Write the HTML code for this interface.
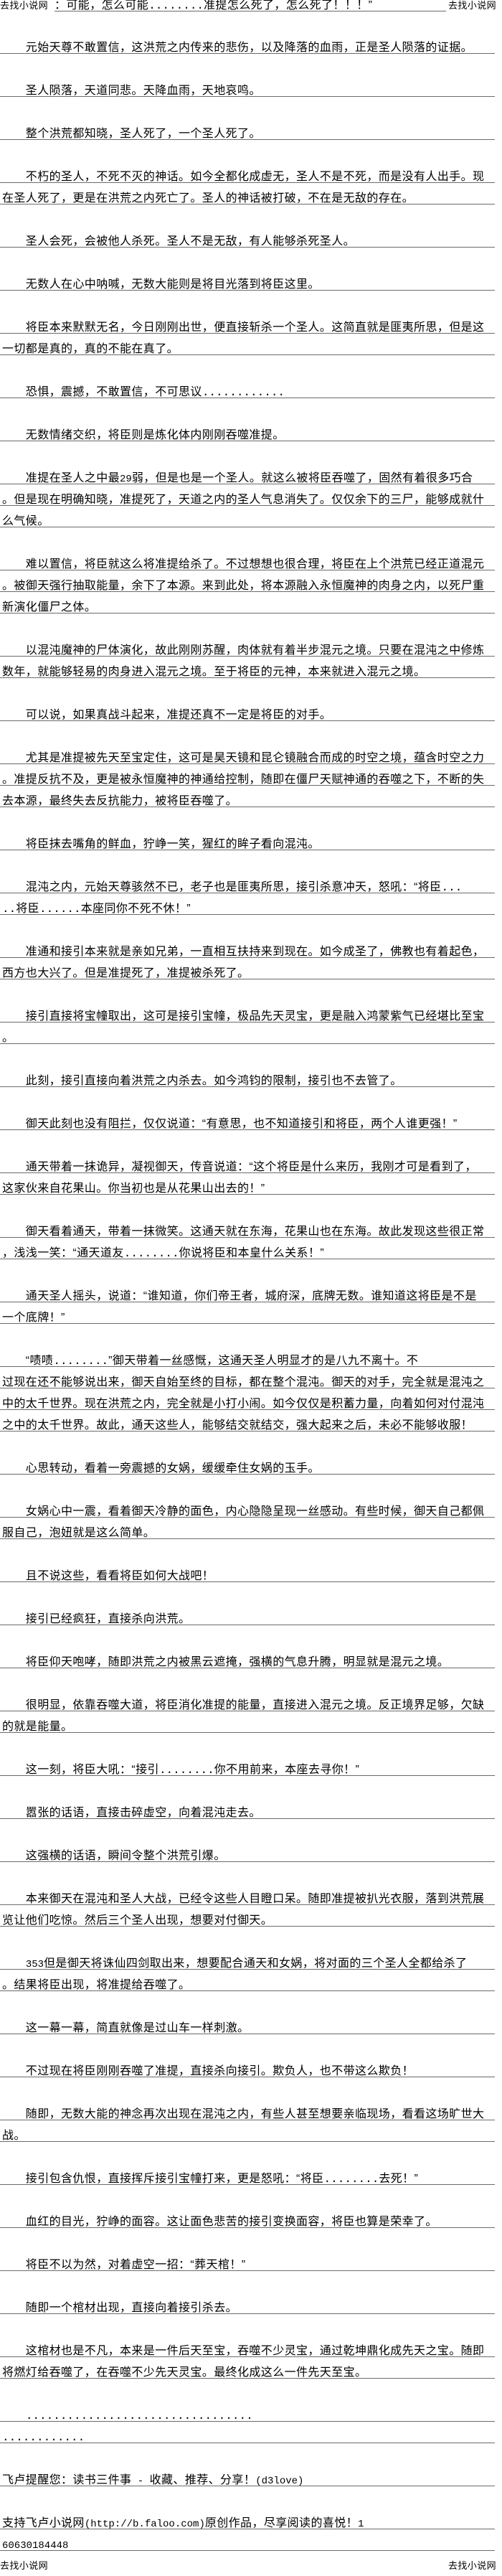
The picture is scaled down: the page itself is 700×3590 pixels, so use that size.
<!DOCTYPE html>
<html><head><meta charset="utf-8">
<style>
html,body{margin:0;padding:0;background:#fff;}
body{width:700px;height:3590px;position:relative;overflow:hidden;color:#000;
font-family:"WenQuanYi Zen Hei","Liberation Sans","Noto Sans CJK SC",sans-serif;}
#hdr{position:absolute;left:0;top:0;width:700px;height:20px;}
.site{position:absolute;top:0;font-size:13px;letter-spacing:.4px;line-height:15px;white-space:nowrap;}
#mq{position:absolute;left:76px;top:0;width:546px;height:15px;border-bottom:1px solid #6b6b6b;overflow:hidden;white-space:nowrap;font-size:16px;letter-spacing:.4px;line-height:15px;}
#main{position:absolute;left:0;top:45px;width:700px;}
.l{height:22px;padding-top:7px;line-height:29px;border-bottom:1px solid #6b6b6b;margin-right:10px;padding-left:3px;white-space:nowrap;font-size:16px;letter-spacing:.4px;overflow:hidden;}
.b{height:30px;}
.m{font-family:"Liberation Mono",monospace;font-size:14px;letter-spacing:0;}
.d{font-family:"Liberation Mono",monospace;font-size:16px;letter-spacing:0;}
#ftr{position:absolute;left:0;top:3565px;width:700px;height:20px;}
</style></head><body>
<div id="hdr">
<div class="site" style="left:0">去找小说网</div>
<div id="mq">：可能，怎么可能<span class="d">........</span>准提怎么死了，怎么死了！！！”</div>
<div class="site" style="left:625px">去找小说网</div>
</div>
<div id="main">
<div class="l">　　元始天尊不敢置信，这洪荒之内传来的悲伤，以及降落的血雨，正是圣人陨落的证据。</div>
<div class="b"></div>
<div class="l">　　圣人陨落，天道同悲。天降血雨，天地哀鸣。</div>
<div class="b"></div>
<div class="l">　　整个洪荒都知晓，圣人死了，一个圣人死了。</div>
<div class="b"></div>
<div class="l">　　不朽的圣人，不死不灭的神话。如今全都化成虚无，圣人不是不死，而是没有人出手。现</div>
<div class="l">在圣人死了，更是在洪荒之内死亡了。圣人的神话被打破，不在是无敌的存在。</div>
<div class="b"></div>
<div class="l">　　圣人会死，会被他人杀死。圣人不是无敌，有人能够杀死圣人。</div>
<div class="b"></div>
<div class="l">　　无数人在心中呐喊，无数大能则是将目光落到将臣这里。</div>
<div class="b"></div>
<div class="l">　　将臣本来默默无名，今日刚刚出世，便直接斩杀一个圣人。这简直就是匪夷所思，但是这</div>
<div class="l">一切都是真的，真的不能在真了。</div>
<div class="b"></div>
<div class="l">　　恐惧，震撼，不敢置信，不可思议<span class="d">............</span></div>
<div class="b"></div>
<div class="l">　　无数情绪交织，将臣则是炼化体内刚刚吞噬准提。</div>
<div class="b"></div>
<div class="l">　　准提在圣人之中最<span class="m">29</span>弱，但是也是一个圣人。就这么被将臣吞噬了，固然有着很多巧合</div>
<div class="l">。但是现在明确知晓，准提死了，天道之内的圣人气息消失了。仅仅余下的三尸，能够成就什</div>
<div class="l">么气候。</div>
<div class="b"></div>
<div class="l">　　难以置信，将臣就这么将准提给杀了。不过想想也很合理，将臣在上个洪荒已经正道混元</div>
<div class="l">。被御天强行抽取能量，余下了本源。来到此处，将本源融入永恒魔神的肉身之内，以死尸重</div>
<div class="l">新演化僵尸之体。</div>
<div class="b"></div>
<div class="l">　　以混沌魔神的尸体演化，故此刚刚苏醒，肉体就有着半步混元之境。只要在混沌之中修炼</div>
<div class="l">数年，就能够轻易的肉身进入混元之境。至于将臣的元神，本来就进入混元之境。</div>
<div class="b"></div>
<div class="l">　　可以说，如果真战斗起来，准提还真不一定是将臣的对手。</div>
<div class="b"></div>
<div class="l">　　尤其是准提被先天至宝定住，这可是昊天镜和昆仑镜融合而成的时空之境，蕴含时空之力</div>
<div class="l">。准提反抗不及，更是被永恒魔神的神通给控制，随即在僵尸天赋神通的吞噬之下，不断的失</div>
<div class="l">去本源，最终失去反抗能力，被将臣吞噬了。</div>
<div class="b"></div>
<div class="l">　　将臣抹去嘴角的鲜血，狞峥一笑，猩红的眸子看向混沌。</div>
<div class="b"></div>
<div class="l">　　混沌之内，元始天尊骇然不已，老子也是匪夷所思，接引杀意冲天，怒吼：“将臣<span class="d">...</span></div>
<div class="l"><span class="d">..</span>将臣<span class="d">......</span>本座同你不死不休！”</div>
<div class="b"></div>
<div class="l">　　准通和接引本来就是亲如兄弟，一直相互扶持来到现在。如今成圣了，佛教也有着起色，</div>
<div class="l">西方也大兴了。但是准提死了，准提被杀死了。</div>
<div class="b"></div>
<div class="l">　　接引直接将宝幢取出，这可是接引宝幢，极品先天灵宝，更是融入鸿蒙紫气已经堪比至宝</div>
<div class="l">。</div>
<div class="b"></div>
<div class="l">　　此刻，接引直接向着洪荒之内杀去。如今鸿钧的限制，接引也不去管了。</div>
<div class="b"></div>
<div class="l">　　御天此刻也没有阻拦，仅仅说道：“有意思，也不知道接引和将臣，两个人谁更强！”</div>
<div class="b"></div>
<div class="l">　　通天带着一抹诡异，凝视御天，传音说道：“这个将臣是什么来历，我刚才可是看到了，</div>
<div class="l">这家伙来自花果山。你当初也是从花果山出去的！”</div>
<div class="b"></div>
<div class="l">　　御天看着通天，带着一抹微笑。这通天就在东海，花果山也在东海。故此发现这些很正常</div>
<div class="l">，浅浅一笑：“通天道友<span class="d">........</span>你说将臣和本皇什么关系！”</div>
<div class="b"></div>
<div class="l">　　通天圣人摇头，说道：“谁知道，你们帝王者，城府深，底牌无数。谁知道这将臣是不是</div>
<div class="l">一个底牌！”</div>
<div class="b"></div>
<div class="l">　　“啧啧<span class="d">........</span>”御天带着一丝感慨，这通天圣人明显才的是八九不离十。不</div>
<div class="l">过现在还不能够说出来，御天自始至终的目标，都在整个混沌。御天的对手，完全就是混沌之</div>
<div class="l">中的太千世界。现在洪荒之内，完全就是小打小闹。如今仅仅是积蓄力量，向着如何对付混沌</div>
<div class="l">之中的太千世界。故此，通天这些人，能够结交就结交，强大起来之后，未必不能够收服！</div>
<div class="b"></div>
<div class="l">　　心思转动，看着一旁震撼的女娲，缓缓牵住女娲的玉手。</div>
<div class="b"></div>
<div class="l">　　女娲心中一震，看着御天冷静的面色，内心隐隐呈现一丝感动。有些时候，御天自己都佩</div>
<div class="l">服自己，泡妞就是这么简单。</div>
<div class="b"></div>
<div class="l">　　且不说这些，看看将臣如何大战吧！</div>
<div class="b"></div>
<div class="l">　　接引已经疯狂，直接杀向洪荒。</div>
<div class="b"></div>
<div class="l">　　将臣仰天咆哮，随即洪荒之内被黑云遮掩，强横的气息升腾，明显就是混元之境。</div>
<div class="b"></div>
<div class="l">　　很明显，依靠吞噬大道，将臣消化准提的能量，直接进入混元之境。反正境界足够，欠缺</div>
<div class="l">的就是能量。</div>
<div class="b"></div>
<div class="l">　　这一刻，将臣大吼：“接引<span class="d">........</span>你不用前来，本座去寻你！”</div>
<div class="b"></div>
<div class="l">　　嚣张的话语，直接击碎虚空，向着混沌走去。</div>
<div class="b"></div>
<div class="l">　　这强横的话语，瞬间令整个洪荒引爆。</div>
<div class="b"></div>
<div class="l">　　本来御天在混沌和圣人大战，已经令这些人目瞪口呆。随即准提被扒光衣服，落到洪荒展</div>
<div class="l">览让他们吃惊。然后三个圣人出现，想要对付御天。</div>
<div class="b"></div>
<div class="l">　　<span class="m">353</span>但是御天将诛仙四剑取出来，想要配合通天和女娲，将对面的三个圣人全都给杀了</div>
<div class="l">。结果将臣出现，将准提给吞噬了。</div>
<div class="b"></div>
<div class="l">　　这一幕一幕，简直就像是过山车一样刺激。</div>
<div class="b"></div>
<div class="l">　　不过现在将臣刚刚吞噬了准提，直接杀向接引。欺负人，也不带这么欺负！</div>
<div class="b"></div>
<div class="l">　　随即，无数大能的神念再次出现在混沌之内，有些人甚至想要亲临现场，看看这场旷世大</div>
<div class="l">战。</div>
<div class="b"></div>
<div class="l">　　接引包含仇恨，直接挥斥接引宝幢打来，更是怒吼：“将臣<span class="d">........</span>去死！”</div>
<div class="b"></div>
<div class="l">　　血红的目光，狞峥的面容。这让面色悲苦的接引变换面容，将臣也算是荣幸了。</div>
<div class="b"></div>
<div class="l">　　将臣不以为然，对着虚空一招：“葬天棺！”</div>
<div class="b"></div>
<div class="l">　　随即一个棺材出现，直接向着接引杀去。</div>
<div class="b"></div>
<div class="l">　　这棺材也是不凡，本来是一件后天至宝，吞噬不少灵宝，通过乾坤鼎化成先天之宝。随即</div>
<div class="l">将燃灯给吞噬了，在吞噬不少先天灵宝。最终化成这么一件先天至宝。</div>
<div class="b"></div>
<div class="l">　　<span class="d">.................................</span></div>
<div class="l"><span class="d">............</span></div>
<div class="b"></div>
<div class="l">飞卢提醒您：读书三件事<span class="m"> - </span>收藏、推荐、分享！<span class="m">(d3love)</span></div>
<div class="b"></div>
<div class="l">支持飞卢小说网<span class="m">(http://b.faloo.com)</span>原创作品，尽享阅读的喜悦！<span class="m">1</span></div>
<div class="l"><span class="m">60630184448</span></div>
</div>
<div id="ftr">
<div class="site" style="left:0;top:3px">去找小说网</div>
<div class="site" style="left:625px;top:3px">去找小说网</div>
</div>
</body></html>
